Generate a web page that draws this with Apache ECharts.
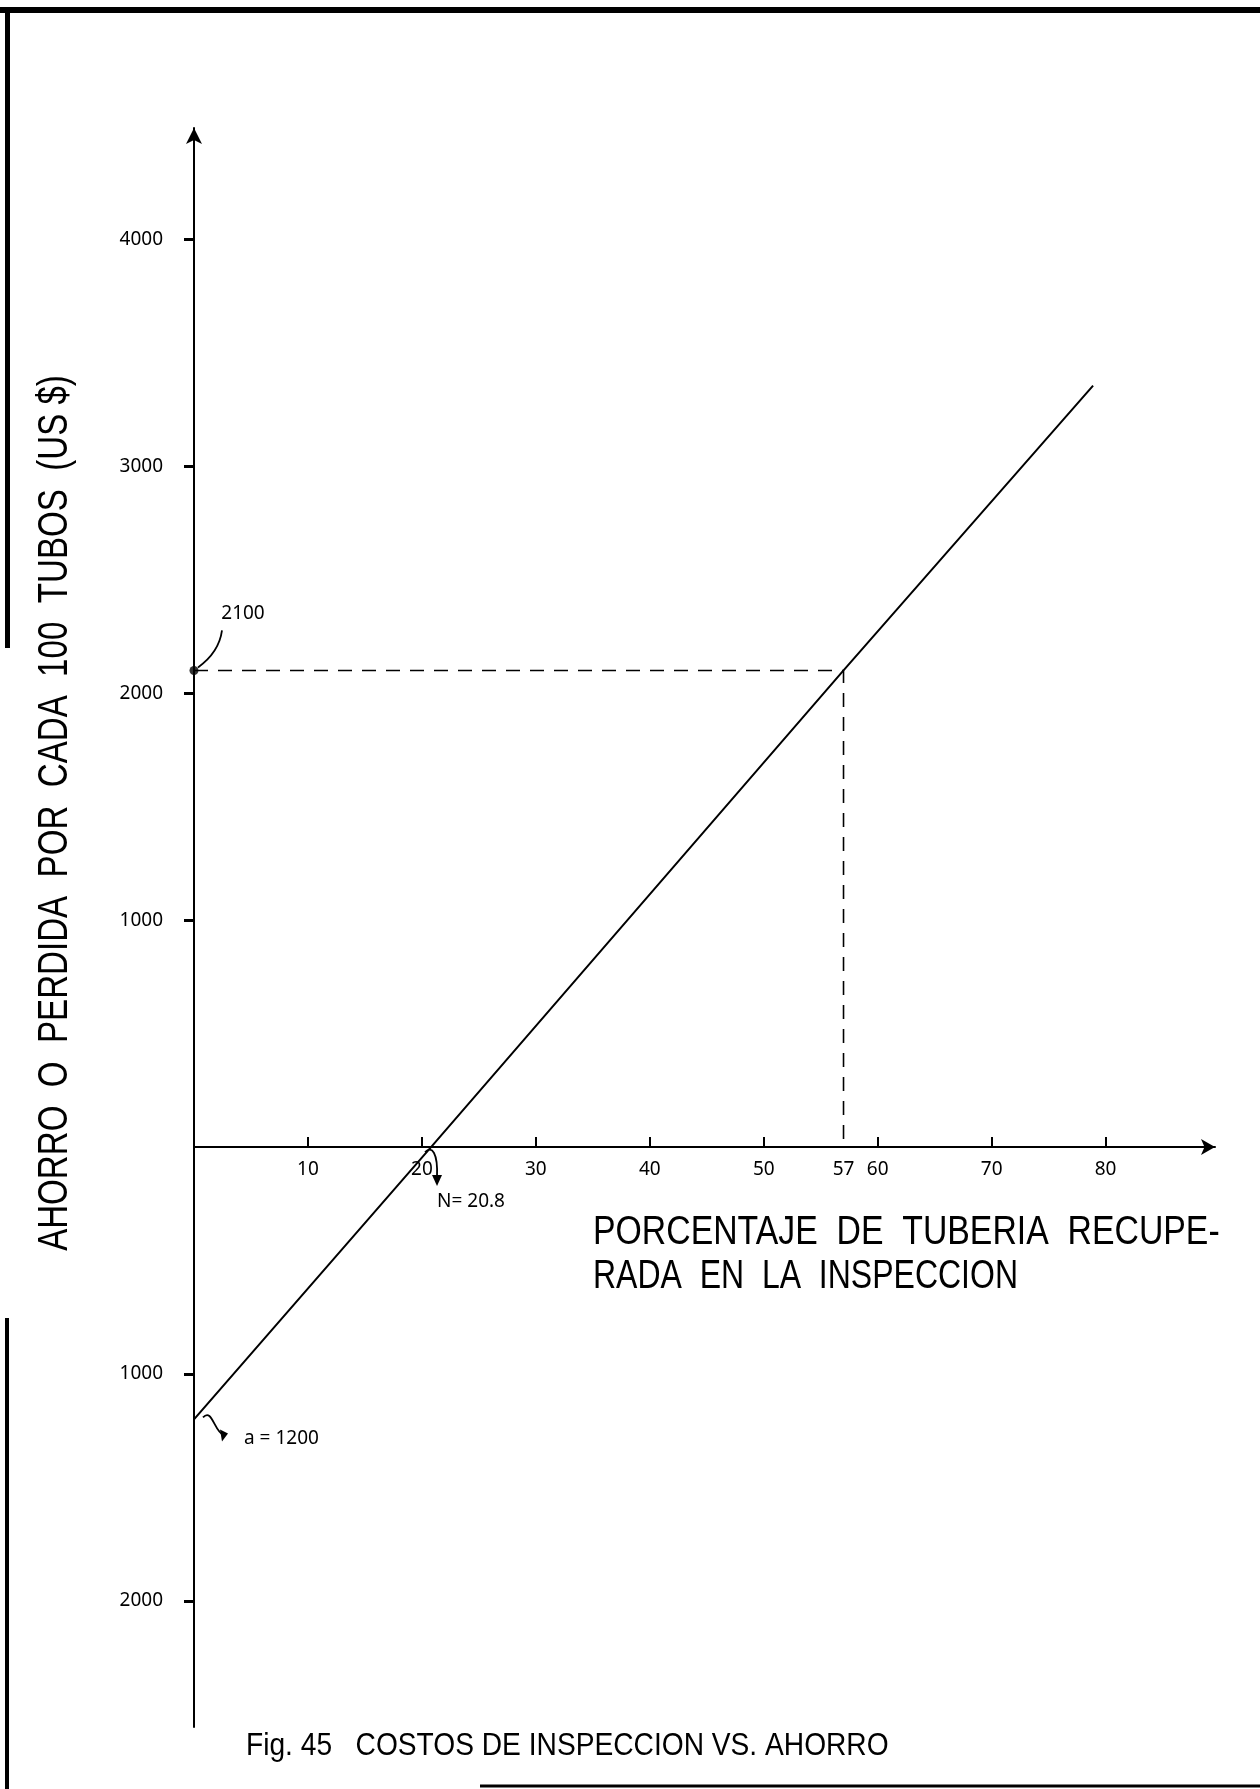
<!DOCTYPE html>
<html>
<head>
<meta charset="utf-8">
<script src="https://cdn.jsdelivr.net/npm/echarts@6.0.0/dist/echarts.min.js"></script>
<style>
  html, body { margin: 0; padding: 0; background: #fff; }
  #main { width: 1260px; height: 1789px; }
</style>
</head>
<body>
<div id="main"></div>
<script>
// axis ticks / labels
const xTicks = [10, 20, 30, 40, 50, 60, 70, 80];
const xLabels = [10, 20, 30, 40, 50, 57, 60, 70, 80];
const yTicks = [-2000, -1000, 1000, 2000, 3000, 4000];

// ahorro/perdida vs % recuperado
const lineX = [0, 20.8, 57, 78.9];
const lineY = [-1200, 0, 2100, 3355];

// guia punteada al punto de 2100
const guideX = [0, 57, 57];
const guideY = [2100, 2100, 0];

const markX = [0];
const markY = [2100];

const xMax = 89.6;
const yMin = -2555;
const yMax = 4490;

const lettering = "'Liberation Sans',Arial,sans-serif";
const plain = "'Noto Sans',sans-serif";

const gridTop = 128, gridBottom = 62;
const gridH = 1789 - gridTop - gridBottom;
// el eje x va en y = 0, con sus etiquetas
const xOffset = -gridH * (0 - yMin) / (yMax - yMin);

let chart = echarts.init(document.getElementById('main'));

chart.setOption({
    animation: false,
    backgroundColor: '#fff',
    grid: {
        left: 194,
        right: 45,
        top: gridTop,
        bottom: gridBottom,
        containLabel: false,
        outerBoundsMode: 'none'
    },
    xAxis: {
        type: 'value',
        min: 0,
        max: xMax,
        offset: xOffset,
        axisLine: {
            onZero: false,
            symbol: ['none', 'arrow'],
            symbolSize: [12, 14],
            lineStyle: { color: '#000', width: 2 }
        },
        axisTick: {
            customValues: xTicks,
            inside: true,
            length: 10,
            lineStyle: { color: '#000', width: 2 }
        },
        axisLabel: {
            customValues: xLabels,
            color: '#000',
            fontFamily: plain,
            fontSize: 19,
            margin: 13
        },
        splitLine: { show: false }
    },
    yAxis: {
        type: 'value',
        min: yMin,
        max: yMax,
        axisLine: {
            onZero: false,
            symbol: ['none', 'arrow'],
            symbolSize: [12, 16],
            lineStyle: { color: '#000', width: 2 }
        },
        axisTick: {
            customValues: yTicks,
            length: 10,
            lineStyle: { color: '#000', width: 3 }
        },
        axisLabel: {
            customValues: yTicks,
            formatter: v => String(Math.abs(v)),
            color: '#000',
            fontFamily: plain,
            fontSize: 19,
            margin: 31
        },
        splitLine: { show: false }
    },
    series: [
        {
            type: 'line',
            data: lineX.map((x, i) => [x, lineY[i]]),
            symbol: 'none',
            lineStyle: { color: '#000', width: 2 }
        },
        {
            type: 'line',
            data: guideX.map((x, i) => [x, guideY[i]]),
            symbol: 'none',
            lineStyle: { color: '#000', width: 1.6, type: [14, 10] }
        },
        {
            type: 'scatter',
            data: markX.map((x, i) => [x, markY[i]]),
            symbolSize: 9,
            itemStyle: { color: '#000' }
        }
    ]
});

// anotaciones ubicadas desde las coordenadas de datos
const p = (x, y) => chart.convertToPixel({ gridIndex: 0 }, [x, y]);
const a = p(0, 2100);
const n = p(20.8, 0);
const c = p(0, -1200);
const ink = { stroke: '#000', lineWidth: 1.8, fill: null };

chart.setOption({
    graphic: [
        // marco
        { type: 'rect', shape: { x: 0, y: 7, width: 1260, height: 6 }, style: { fill: '#000' } },
        { type: 'rect', shape: { x: 5, y: 7, width: 5, height: 641 }, style: { fill: '#000' } },
        { type: 'rect', shape: { x: 5, y: 1318, width: 4, height: 471 }, style: { fill: '#000' } },
        { type: 'line', shape: { x1: 480, y1: 1786, x2: 1260, y2: 1786 }, style: { stroke: '#000', lineWidth: 3 } },

        // titulos
        {
            type: 'text', x: 55, y: 813, rotation: Math.PI / 2, scaleX: 0.77,
            style: {
                text: 'AHORRO  O  PERDIDA  POR  CADA  100  TUBOS  (US $)',
                font: '43px ' + lettering, fill: '#000',
                align: 'center', verticalAlign: 'middle'
            }
        },
        {
            type: 'text', x: 593, y: 1233, scaleX: 0.845,
            style: {
                text: 'PORCENTAJE  DE  TUBERIA  RECUPE-',
                font: '40px ' + lettering, fill: '#000',
                align: 'left', verticalAlign: 'middle'
            }
        },
        {
            type: 'text', x: 593, y: 1277, scaleX: 0.8,
            style: {
                text: 'RADA  EN  LA  INSPECCION',
                font: '40px ' + lettering, fill: '#000',
                align: 'left', verticalAlign: 'middle'
            }
        },
        {
            type: 'text', x: 246, y: 1746, scaleX: 0.88,
            style: {
                text: 'Fig. 45   COSTOS DE INSPECCION VS. AHORRO',
                font: '32px ' + lettering, fill: '#000',
                align: 'left', verticalAlign: 'middle'
            }
        },

        // 2100
        {
            type: 'text', x: a[0] + 49, y: a[1] - 57,
            style: { text: '2100', font: '19px ' + plain, fill: '#000', align: 'center', verticalAlign: 'middle' }
        },
        {
            type: 'bezierCurve',
            shape: { x1: a[0] + 28, y1: a[1] - 40, cpx1: a[0] + 25, cpy1: a[1] - 18, x2: a[0] + 4, y2: a[1] - 3 },
            style: ink
        },

        // N = 20.8
        {
            type: 'text', x: n[0] + 40, y: n[1] + 55,
            style: { text: 'N= 20.8', font: '19px ' + plain, fill: '#000', align: 'center', verticalAlign: 'middle' }
        },
        {
            type: 'bezierCurve',
            shape: { x1: n[0] - 6, y1: n[1] + 5, cpx1: n[0] + 1, cpy1: n[1] - 2, cpx2: n[0] + 7, cpy2: n[1] + 6, x2: n[0] + 6, y2: n[1] + 30 },
            style: ink
        },
        {
            type: 'polygon',
            shape: { points: [[n[0] + 1, n[1] + 28], [n[0] + 11, n[1] + 28], [n[0] + 6, n[1] + 39]] },
            style: { fill: '#000' }
        },

        // a = 1200
        {
            type: 'text', x: c[0] + 50, y: c[1] + 19,
            style: { text: 'a = 1200', font: '19px ' + plain, fill: '#000', align: 'left', verticalAlign: 'middle' }
        },
        {
            type: 'bezierCurve',
            shape: { x1: c[0] + 9, y1: c[1] - 2, cpx1: c[0] + 18, cpy1: c[1] - 12, cpx2: c[0] + 20, cpy2: c[1] + 12, x2: c[0] + 30, y2: c[1] + 16 },
            style: ink
        },
        {
            type: 'polygon',
            shape: { points: [[c[0] + 26, c[1] + 10], [c[0] + 34, c[1] + 14], [c[0] + 28, c[1] + 22]] },
            style: { fill: '#000' }
        }
    ]
});
</script>
</body>
</html>
